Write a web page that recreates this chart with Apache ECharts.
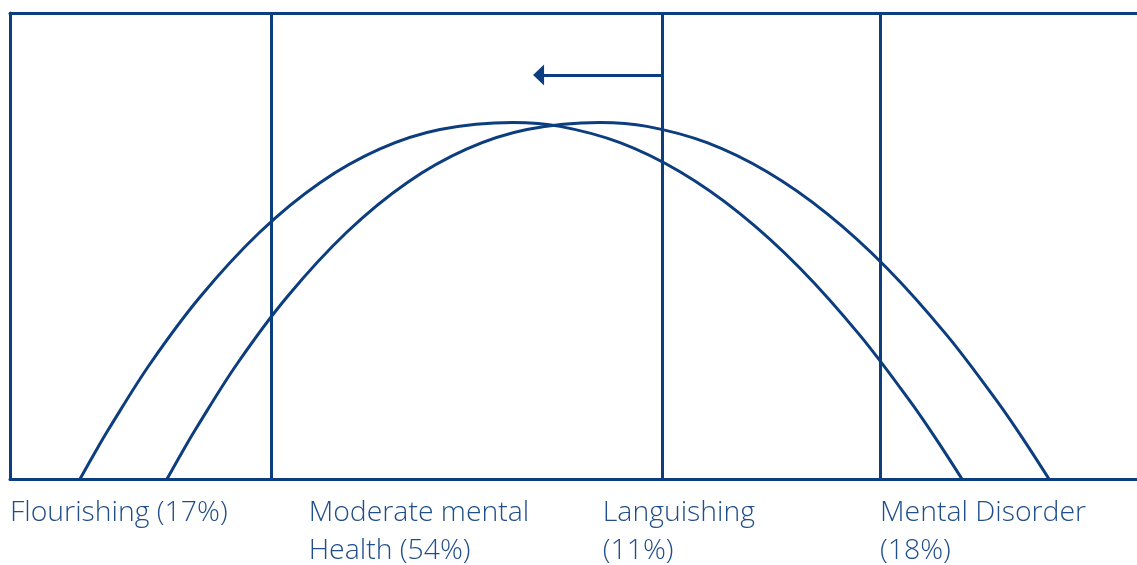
<!DOCTYPE html>
<html>
<head>
<meta charset="utf-8">
<script src="https://cdn.jsdelivr.net/npm/echarts@6/dist/echarts.min.js"></script>
<style>
  html, body { margin: 0; padding: 0; background: #ffffff; }
  #chart { width: 1137px; height: 565px; }
</style>
</head>
<body>
<div id="chart"></div>
<script>
// Scale: x 0..100 (left to right), y 0..100 (bottom to top)
const curveNowX = [6.21, 7.54, 8.87, 12.42, 16.86, 22.18, 27.51, 32.83, 38.15, 44.63, 48.80, 54.13, 59.45, 64.77, 70.10, 75.42, 79.86, 82.08, 84.47];
const curveNowY = [0, 5.71, 11.16, 24.68, 39.06, 53.0, 63.58, 70.82, 74.98, 76.5, 75.67, 72.17, 65.92, 56.95, 45.24, 30.82, 16.70, 8.93, 0];

const curveShiftX = [13.93, 15.26, 16.59, 20.14, 24.58, 29.90, 35.23, 40.55, 45.87, 52.35, 56.52, 61.85, 67.17, 72.49, 77.82, 83.14, 87.58, 89.80, 92.19];
const curveShiftY = [0, 5.71, 11.16, 24.68, 39.06, 53.0, 63.58, 70.82, 74.98, 76.5, 75.67, 72.17, 65.92, 56.95, 45.24, 30.82, 16.70, 8.93, 0];

const boundaries = [23.2, 57.9, 77.2];
const arrowFrom = [57.9, 86.7];
const arrowTo = [46.9, 86.7];

const labelPositions = [0, 26.5, 52.6, 77.2];
const labelTexts = ['Flourishing (17%)', 'Moderate mental\nHealth (54%)', 'Languishing\n(11%)', 'Mental Disorder\n(18%)'];

const LINE = '#0b3d7f';
const TEXT = '#1f4e8a';

const zip = (xs, ys) => xs.map((x, i) => [x, ys[i]]);

const chart = echarts.init(document.getElementById('chart'), null, { renderer: 'canvas' });
chart.setOption({
  animation: false,
  backgroundColor: '#ffffff',
  grid: { left: 10, right: 0, top: 13, bottom: 86, containLabel: false, outerBoundsMode: 'none' },
  xAxis: [
    {
      type: 'value', min: 0, max: 100, position: 'bottom',
      axisLine: { show: true, lineStyle: { color: LINE, width: 3 } },
      axisTick: { show: false },
      splitLine: { show: false },
      axisLabel: {
        show: true,
        customValues: labelPositions,
        align: 'left',
        margin: 15,
        color: TEXT,
        fontFamily: 'Open Sans',
        fontWeight: 300,
        fontSize: 28.4,
        lineHeight: 38,
        formatter: function (v) {
          let best = 0, bd = Infinity;
          labelPositions.forEach((p, i) => { const d = Math.abs(p - v); if (d < bd) { bd = d; best = i; } });
          return labelTexts[best];
        }
      }
    },
    {
      type: 'value', min: 0, max: 100, position: 'top',
      axisLine: { show: true, lineStyle: { color: LINE, width: 3 } },
      axisTick: { show: false },
      splitLine: { show: false },
      axisLabel: { show: false }
    }
  ],
  yAxis: {
    type: 'value', min: 0, max: 100,
    axisLine: { show: true, lineStyle: { color: LINE, width: 3 } },
    axisTick: { show: false },
    splitLine: { show: false },
    axisLabel: { show: false }
  },
  series: [
    {
      type: 'line',
      xAxisIndex: 0,
      data: zip(curveNowX, curveNowY),
      smooth: 0.35,
      showSymbol: false,
      lineStyle: { color: LINE, width: 3 },
      markLine: {
        silent: true,
        symbol: 'none',
        label: { show: false },
        lineStyle: { color: LINE, width: 3, type: 'solid' },
        data: boundaries.map(v => ({ xAxis: v }))
      }
    },
    {
      type: 'line',
      xAxisIndex: 0,
      data: zip(curveShiftX, curveShiftY),
      smooth: 0.35,
      showSymbol: false,
      lineStyle: { color: LINE, width: 3 },
      markLine: {
        silent: true,
        label: { show: false },
        lineStyle: { color: LINE, width: 3, type: 'solid' },
        data: [[
          { coord: arrowFrom, symbol: 'none' },
          { coord: arrowTo, symbol: 'triangle', symbolSize: [21, 11] }
        ]]
      }
    }
  ]
});
</script>
</body>
</html>
